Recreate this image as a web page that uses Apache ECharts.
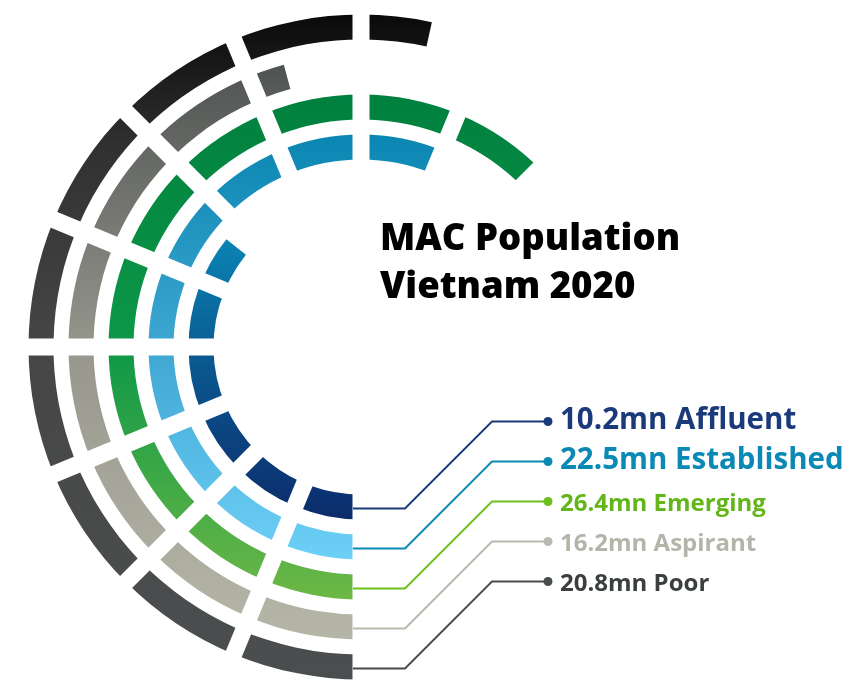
<!DOCTYPE html>
<html>
<head>
<meta charset="utf-8">
<style>
  html, body { margin: 0; padding: 0; background: #ffffff; }
  #chart { width: 868px; height: 680px; }
</style>
<script src="https://cdn.jsdelivr.net/npm/echarts@6/dist/echarts.min.js"></script>
</head>
<body>
<div id="chart"></div>
<script>
// MAC population segments, innermost ring first (millions of people)
const categories = ['Affluent', 'Established', 'Emerging', 'Aspirant', 'Poor'];
const populationMn = [10.2, 22.5, 26.4, 16.2, 20.8];
const titleLines = ['MAC Population', 'Vietnam 2020'];

// ring fills as vertical gradients, listed bottom to top as [offset, colour]
const ringStops = [
  [[0, '#0c2b6b'], [0.6, '#0a5c93'], [1, '#0a84b4']],
  [[0, '#6dd0f7'], [0.5, '#3fa6d2'], [1, '#0a86b2']],
  [[0, '#6cb846'], [0.5, '#0d9848'], [1, '#00803e']],
  [[0, '#b6b6a8'], [0.5, '#97978d'], [0.8, '#6c6e6a'], [1, '#4f5452']],
  [[0, '#4b4e4f'], [0.5, '#464646'], [0.8, '#313131'], [1, '#0a0a0a']]
];
const labelColors = ['#1b3a7b', '#0a89b5', '#62b619', '#b4b4a9', '#3c3f3f'];
const lineColors = ['#1b3a7b', '#0a89b5', '#6cbf1c', '#b9b9ad', '#494c4c'];
const labelSizes = [29.5, 29.5, 24, 24, 24];

// geometry of the ring chart
const CX = 361, CY = 347;
const R_IN = 140, R_OUT = 340, BAND = (R_OUT - R_IN) / categories.length;
const STEP = 3.75;                 // value span of one ring segment
const ANGLE_MIN = -3 * STEP;       // rings start at the bottom
const ANGLE_MAX = ANGLE_MIN + 16 * STEP;

const chart = echarts.init(document.getElementById('chart'), null, { renderer: 'canvas' });

const barData = populationMn.map((v, i) => ({
  value: v,
  itemStyle: {
    color: {
      type: 'linear', x: 0, y: 1, x2: 0, y2: 0,
      colorStops: ringStops[i].map(s => ({ offset: s[0], color: s[1] }))
    }
  }
}));

// title, leader lines, dots and value labels
const graphics = [];
titleLines.forEach((t, i) => {
  graphics.push({
    type: 'text', x: 380, y: 240 + i * 48, z: 100,
    style: {
      text: t, fill: '#000000', verticalAlign: 'middle',
      font: '800 36.5px "Open Sans"'
    }
  });
});
categories.forEach((name, i) => {
  const y0 = CY + R_IN + BAND * (i + 0.5) + 1.5;
  const y1 = y0 - 87;
  const big = labelSizes[i] > 26;
  graphics.push({
    type: 'polyline', z: 100,
    shape: { points: [[CX - 8, y0], [405, y0], [492, y1], [548, y1]] },
    style: { stroke: lineColors[i], lineWidth: 2, fill: null }
  });
  graphics.push({
    type: 'circle', z: 101,
    shape: { cx: 548, cy: y1, r: 4.5 },
    style: { fill: lineColors[i] }
  });
  graphics.push({
    type: 'text', x: 560, y: big ? y1 - 1 : y1 + 3, z: 100,
    style: {
      text: populationMn[i].toFixed(1) + 'mn ' + name,
      fill: labelColors[i], verticalAlign: 'middle',
      font: 'bold ' + labelSizes[i] + 'px "Open Sans"'
    }
  });
});

chart.setOption({
  animation: false,
  backgroundColor: '#ffffff',
  polar: { center: [CX, CY], radius: [R_IN, R_OUT] },
  radiusAxis: {
    type: 'category', data: categories,
    axisLine: { show: false }, axisTick: { show: false },
    axisLabel: { show: false }, splitLine: { show: false }
  },
  angleAxis: {
    type: 'value', min: ANGLE_MIN, max: ANGLE_MAX, interval: STEP,
    startValue: ANGLE_MIN,
    startAngle: 270, clockwise: true, z: 10,
    axisLine: { show: false }, axisTick: { show: false },
    axisLabel: { show: false },
    splitLine: { show: true, lineStyle: { color: '#ffffff', width: 17 } }
  },
  series: [{
    type: 'bar', coordinateSystem: 'polar',
    barWidth: 25, silent: true,
    data: barData
  }],
  graphic: graphics
});
</script>
</body>
</html>
